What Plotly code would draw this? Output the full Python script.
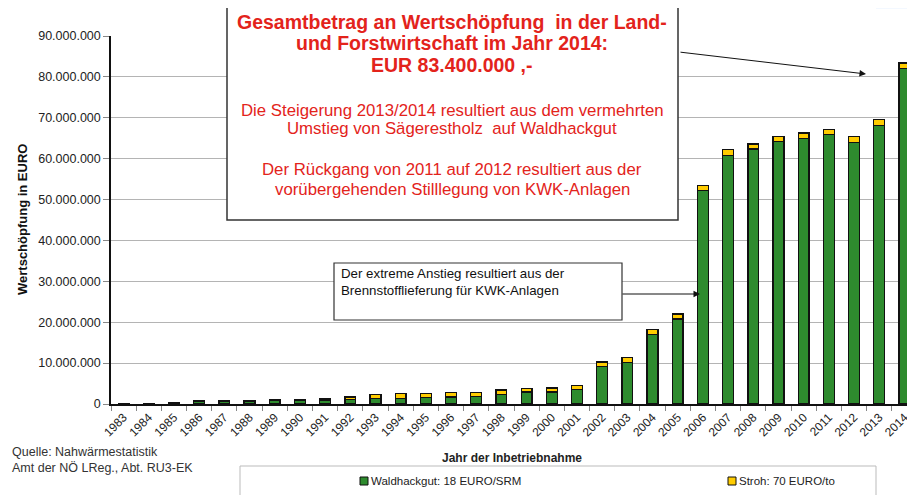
import plotly.graph_objects as go

years = [str(y) for y in range(1983, 2015)]
waldhackgut = [0.2, 0.2, 0.45, 0.7, 0.7, 0.7, 0.95, 0.9, 1.0, 1.1, 1.3, 1.4, 1.6, 1.7, 1.8, 2.4,
               2.9, 2.9, 3.6, 9.2, 10.2, 17.0, 20.8, 52.3, 60.8, 62.4, 64.2, 65.0, 65.9, 64.0, 68.1, 82.0]
stroh = [0.0, 0.0, 0.0, 0.0, 0.0, 0.0, 0.05, 0.1, 0.2, 0.6, 1.0, 1.1, 1.0, 1.1, 1.0, 1.0,
         0.9, 1.0, 1.0, 1.1, 1.2, 1.2, 1.2, 1.2, 1.4, 1.2, 1.2, 1.3, 1.3, 1.5, 1.5, 1.4]
waldhackgut_eur = [v * 1e6 for v in waldhackgut]
stroh_eur = [v * 1e6 for v in stroh]
y_ticks = [i * 10_000_000 for i in range(10)]
series_names = ["Waldhackgut: 18 EURO/SRM", "Stroh: 70 EURO/to"]
series_colors = ["#2E8B2E", "#FFCC00"]

title_lines = ["Gesamtbetrag an Wertschöpfung  in der Land-",
               "und Forstwirtschaft im Jahr 2014:",
               "EUR 83.400.000 ,-"]
note_lines = ["Die Steigerung 2013/2014 resultiert aus dem vermehrten",
              "Umstieg von Sägerestholz  auf Waldhackgut",
              "Der Rückgang von 2011 auf 2012 resultiert aus der",
              "vorübergehenden Stilllegung von KWK-Anlagen"]
kwk_lines = ["Der extreme Anstieg resultiert aus der",
             "Brennstofflieferung für KWK-Anlagen"]

# page has an 8px body margin; figure is sized to fill the rest of the 915x495 window
OFF = 8
W, H = 915 - OFF, 495 - OFF
L, R, T, B = 111 - OFF, 0, 36 - OFF, 91
PW, PH = W - L - R, H - T - B


def px(x):  # reference page pixel -> paper x
    return (x - OFF - L) / PW


def py(y):  # reference page pixel -> paper y
    return (H - B - (y - OFF)) / PH


FONT = "Liberation Sans, Arial, sans-serif"
RED = "#E3231B"

fig = go.Figure()
fig.add_trace(go.Bar(x=years, y=waldhackgut_eur, name=series_names[0], showlegend=False,
                     marker=dict(color=series_colors[0], line=dict(color="#111111", width=1.3))))
fig.add_trace(go.Bar(x=years, y=stroh_eur, name=series_names[1], showlegend=False,
                     marker=dict(color=series_colors[1], line=dict(color="#111111", width=1.3))))

shapes = [
    dict(type="rect", xref="paper", yref="paper", x0=px(876), x1=px(915), y0=py(9), y1=py(0),
         line=dict(width=0), fillcolor="#F3F8FF", layer="below"),
    dict(type="rect", xref="paper", yref="paper", x0=px(227), x1=px(678), y0=py(220), y1=py(3),
         line=dict(color="#333333", width=1.5), fillcolor="white", layer="above"),
    dict(type="rect", xref="paper", yref="paper", x0=px(334), x1=px(622), y0=py(320), y1=py(263),
         line=dict(color="#333333", width=1.2), fillcolor="white", layer="above"),
    dict(type="rect", xref="paper", yref="paper", x0=px(240), x1=px(876), y0=py(497), y1=py(466),
         line=dict(color="#BBBBBB", width=1), fillcolor="white", layer="below"),
]

annotations = []
for line, yc in zip(title_lines, [21.7, 43.3, 65]):
    annotations.append(dict(xref="paper", yref="paper", x=px(452), y=py(yc), xanchor="center",
                            yanchor="middle", showarrow=False, text=f"<b>{line}</b>",
                            font=dict(family=FONT, size=19.5, color=RED)))
for line, yc in zip(note_lines, [110, 128.5, 170, 189.5]):
    annotations.append(dict(xref="paper", yref="paper", x=px(452), y=py(yc), xanchor="center",
                            yanchor="middle", showarrow=False, text=line,
                            font=dict(family=FONT, size=16.8, color=RED)))
for line, yc in zip(kwk_lines, [273, 290]):
    annotations.append(dict(xref="paper", yref="paper", x=px(339), y=py(yc), xanchor="left",
                            yanchor="middle", showarrow=False, text=line,
                            font=dict(family=FONT, size=13.3, color="#111111")))

annotations += [
    dict(xref="paper", yref="paper", x=px(866), y=py(74), ax=679 - 866, ay=52 - 74, text="",
         showarrow=True, arrowhead=2, arrowsize=1.3, arrowwidth=1, arrowcolor="#111111"),
    dict(xref="paper", yref="paper", x=px(700), y=py(294), ax=-79, ay=0, text="",
         showarrow=True, arrowhead=2, arrowsize=1.3, arrowwidth=1, arrowcolor="#111111"),
    dict(xref="paper", yref="paper", x=px(10), y=py(460), xanchor="left", yanchor="middle",
         showarrow=False, align="left",
         text="Quelle: Nahwärmestatistik<br>Amt der NÖ LReg., Abt. RU3-EK",
         font=dict(family=FONT, size=12.5, color="#333333")),
    dict(xref="paper", yref="paper", x=px(512), y=py(458), xanchor="center", yanchor="middle",
         showarrow=False, text="<b>Jahr der Inbetriebnahme</b>",
         font=dict(family=FONT, size=12, color="#222222")),
    dict(xref="paper", yref="paper", x=px(22), y=0.5, xanchor="center", yanchor="middle",
         showarrow=False, textangle=-90, text="<b>Wertschöpfung in EURO</b>",
         font=dict(family=FONT, size=13, color="#111111")),
]

# legend drawn as small outlined squares with text, like the reference
for name, color, sx in zip(series_names, series_colors, [360, 728]):
    shapes.append(dict(type="rect", xref="paper", yref="paper", x0=px(sx), x1=px(sx + 8),
                       y0=py(485), y1=py(477), line=dict(color="#111111", width=1),
                       fillcolor=color, layer="above"))
    annotations.append(dict(xref="paper", yref="paper", x=px(sx + 9), y=py(481), xanchor="left",
                            yanchor="middle", showarrow=False, text=name,
                            font=dict(family=FONT, size=11.5, color="#222222")))

fig.update_layout(
    width=W, height=H,
    margin=dict(l=L, r=R, t=T, b=B, autoexpand=False),
    paper_bgcolor="white", plot_bgcolor="white",
    barmode="stack", bargap=0.57,
    separators=",.",
    font=dict(family=FONT, size=12, color="#222222"),
    showlegend=False,
    shapes=shapes,
    annotations=annotations,
    xaxis=dict(type="category", range=[-0.5, 31.42], tickangle=-45, tickson="boundaries",
               ticks="outside", ticklen=5, tickcolor="#888888", showline=True,
               linecolor="#111111", linewidth=1.5, showgrid=False,
               tickfont=dict(family=FONT, size=12, color="#222222")),
    yaxis=dict(range=[0, 90_000_000], tickvals=y_ticks, tickformat=",", ticks="outside",
               ticklen=6, tickcolor="#888888", showline=True, linecolor="#111111", linewidth=1.5,
               showgrid=True, gridcolor="#B4B4B4", gridwidth=1, zeroline=False,
               tickfont=dict(family=FONT, size=12.5, color="#222222")),
)

fig.write_html("out.html")
